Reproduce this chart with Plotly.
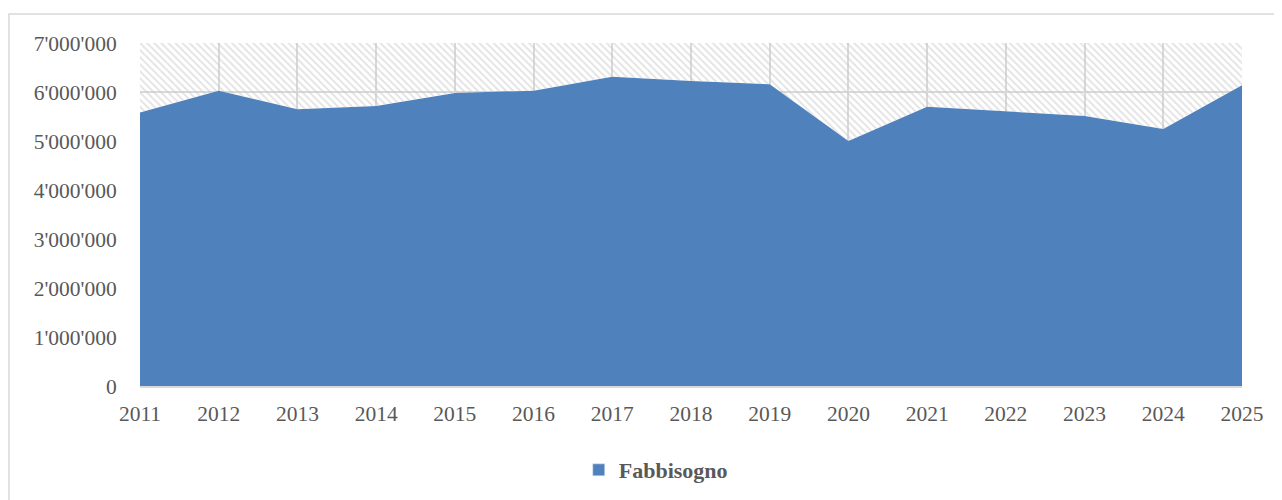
import plotly.graph_objects as go

years = [2011, 2012, 2013, 2014, 2015, 2016, 2017, 2018, 2019, 2020, 2021, 2022, 2023, 2024, 2025]
fabbisogno = [5580000, 6027000, 5647000, 5714000, 5980000, 6027000, 6310000, 6224000, 6157000,
              5000000, 5700000, 5610000, 5510000, 5245000, 6140000]
axis_max = 7000000
y_ticks = [0, 1000000, 2000000, 3000000, 4000000, 5000000, 6000000, 7000000]

FONT = "Liberation Serif"
TXT = "#595959"
GRID = "#d9d9d9"
BLUE = "#4F81BD"

fig = go.Figure()
fig.add_trace(go.Scatter(
    x=years, y=fabbisogno, name="Fabbisogno", mode="lines",
    line=dict(width=0, color=BLUE), fill="tozeroy", fillcolor=BLUE,
    showlegend=False,
))
fig.add_trace(go.Scatter(
    x=years, y=[axis_max] * len(years), mode="lines", name="",
    line=dict(width=0), fill="tonexty", fillcolor="rgba(0,0,0,0)",
    fillpattern=dict(shape="\\", fgcolor="#c8c8c8", bgcolor="rgba(0,0,0,0)",
                     size=5, solidity=0.38),
    showlegend=False, hoverinfo="skip",
))
# legend entry with square swatch
fig.add_trace(go.Bar(x=[None], y=[None], name="Fabbisogno", marker=dict(color=BLUE),
                     showlegend=True))

fig.update_layout(
    width=1282, height=500,
    margin=dict(l=132, r=48, t=35, b=122),
    paper_bgcolor="white", plot_bgcolor="white",
    separators=".'",
    font=dict(family=FONT, size=21.5, color=TXT),
    showlegend=True,
    legend=dict(orientation="h", x=0.468, xanchor="center", y=-0.245, yanchor="middle",
                font=dict(family=FONT, size=22, color=TXT, weight="bold"),
                itemwidth=30),
    xaxis=dict(range=[years[0], years[-1]], tickmode="array", tickvals=years,
               showgrid=True, gridcolor=GRID, gridwidth=2, zeroline=False,
               showline=True, linecolor=GRID, linewidth=2,
               ticks="outside", ticklen=7, tickcolor="rgba(0,0,0,0)",
               tickfont=dict(family=FONT, size=21.5, color=TXT)),
    yaxis=dict(range=[0, axis_max], tickmode="array", tickvals=y_ticks, tickformat=",d",
               showgrid=True, gridcolor=GRID, gridwidth=2, zeroline=False,
               ticks="outside", ticklen=18, tickcolor="rgba(0,0,0,0)",
               tickfont=dict(family=FONT, size=21.5, color=TXT)),
    shapes=[dict(type="rect", xref="paper", yref="paper",
                 x0=-0.1189, x1=1.2, y0=1.0845, y1=-0.6,
                 line=dict(color=GRID, width=1.5), fillcolor="rgba(0,0,0,0)", layer="below")],
)

fig.write_html("out.html")
